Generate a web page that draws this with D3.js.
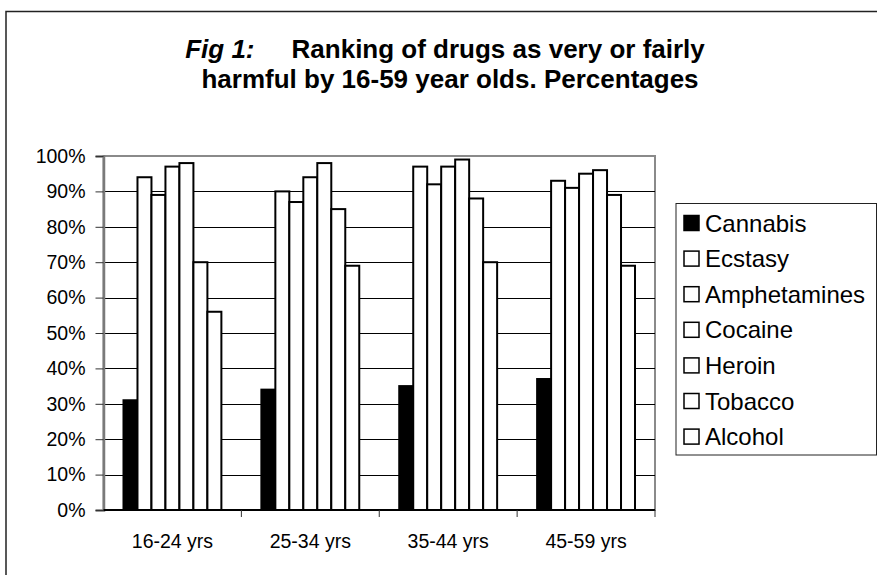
<!DOCTYPE html>
<html>
<head>
<meta charset="utf-8">
<script src="https://cdn.jsdelivr.net/npm/d3@7"></script>
<style>
  body { margin: 0; background: #fff; }
  text { font-family: "Liberation Sans", Arial, sans-serif; }
</style>
</head>
<body>
<div id="chart"></div>
<script>
/**
 * DATA
 * */
const categories = ["16-24 yrs", "25-34 yrs", "35-44 yrs", "45-59 yrs"];
const drugs = ["Cannabis", "Ecstasy", "Amphetamines", "Cocaine", "Heroin", "Tobacco", "Alcohol"];

const cannabis = [31, 34, 35, 37];
const ecstasy = [94, 90, 97, 93];
const amphetamines = [89, 87, 92, 91];
const cocaine = [97, 94, 97, 95];
const heroin = [98, 98, 99, 96];
const tobacco = [70, 85, 88, 89];
const alcohol = [56, 69, 70, 69];

const yTicks = [0, 10, 20, 30, 40, 50, 60, 70, 80, 90, 100];

/**
 * CONSTANTS
 * */
const width = 877,
  height = 575,
  plot = { left: 103.5, right: 655, top: 156, bottom: 510 };

const seriesValues = [cannabis, ecstasy, amphetamines, cocaine, heroin, tobacco, alcohol];
const fills = drugs.map(d => d === "Cannabis" ? "#000" : "#fff");

// one row per category, one value per drug
const table = categories.map((c, i) => ({
  category: c,
  values: drugs.map((d, j) => ({ drug: d, value: seriesValues[j][i], fill: fills[j] }))
}));

const svg = d3.select("#chart")
  .append("svg")
  .attr("width", width)
  .attr("height", height);

// outer chart frame (only top and left edges fall inside the picture)
svg.append("rect")
  .attr("x", 6)
  .attr("y", 11.5)
  .attr("width", 950)
  .attr("height", 650)
  .attr("fill", "none")
  .attr("stroke", "#222")
  .attr("stroke-width", 1.5);

// title
const title = svg.append("text")
  .attr("x", 445)
  .attr("y", 58)
  .attr("text-anchor", "middle")
  .attr("font-size", 26)
  .attr("font-weight", "bold");
title.append("tspan").attr("font-style", "italic").text("Fig 1:");
title.append("tspan").attr("dx", 37).text("Ranking of drugs as very or fairly");

svg.append("text")
  .attr("x", 450)
  .attr("y", 88)
  .attr("text-anchor", "middle")
  .attr("font-size", 26)
  .attr("font-weight", "bold")
  .text("harmful by 16-59 year olds. Percentages");

/**
 * SCALES
 * */
const x0 = d3.scaleBand()
  .domain(categories)
  .range([plot.left, plot.right])
  .padding(0);

const x1 = d3.scaleBand()
  .domain(drugs)
  .range([0, x0.bandwidth()])
  .paddingInner(0)
  .paddingOuter(1.43);

const y = d3.scaleLinear()
  .domain([0, 100])
  .range([plot.bottom, plot.top]);

// plot area border (grey top & right)
svg.append("rect")
  .attr("x", plot.left)
  .attr("y", plot.top)
  .attr("width", plot.right - plot.left)
  .attr("height", plot.bottom - plot.top)
  .attr("fill", "none")
  .attr("stroke", "#8a8a8a")
  .attr("stroke-width", 2);

// gridlines
svg.append("g")
  .selectAll("line")
  .data(yTicks.filter(t => t > 0 && t < 100))
  .join("line")
  .attr("x1", plot.left)
  .attr("x2", plot.right)
  .attr("y1", d => Math.round(y(d)) + 0.5)
  .attr("y2", d => Math.round(y(d)) + 0.5)
  .attr("stroke", "#000")
  .attr("stroke-width", 1);

// bars
const group = svg.append("g")
  .selectAll("g")
  .data(table)
  .join("g")
  .attr("transform", d => `translate(${x0(d.category)},0)`);

group.selectAll("rect")
  .data(d => d.values)
  .join("rect")
  .attr("x", d => x1(d.drug))
  .attr("y", d => y(d.value))
  .attr("width", x1.bandwidth())
  .attr("height", d => y(0) - y(d.value))
  .attr("fill", d => d.fill)
  .attr("stroke", "#000")
  .attr("stroke-width", 2);

// y axis
const yAxis = svg.append("g")
  .attr("transform", `translate(${plot.left},0)`)
  .call(d3.axisLeft(y).tickValues(yTicks).tickSize(8).tickPadding(10).tickFormat(d => d + "%"));
yAxis.select(".domain").attr("stroke", "#7a7a7a").attr("stroke-width", 2.5);
yAxis.selectAll(".tick line").attr("stroke", "#333").attr("stroke-width", 1);
yAxis.selectAll(".tick text")
  .attr("font-size", 19.5)
  .attr("font-family", "Liberation Sans, Arial, sans-serif")
  .attr("fill", "#000");

// x axis: black baseline with ticks between categories
svg.append("line")
  .attr("x1", plot.left)
  .attr("x2", plot.right)
  .attr("y1", plot.bottom)
  .attr("y2", plot.bottom)
  .attr("stroke", "#000")
  .attr("stroke-width", 2);

svg.append("g")
  .selectAll("line")
  .data(categories.slice(1).concat(["end"]))
  .join("line")
  .attr("x1", d => d === "end" ? plot.right : x0(d))
  .attr("x2", d => d === "end" ? plot.right : x0(d))
  .attr("y1", plot.bottom)
  .attr("y2", plot.bottom + 7)
  .attr("stroke", "#333")
  .attr("stroke-width", 1);

svg.append("g")
  .selectAll("text")
  .data(categories)
  .join("text")
  .attr("x", d => x0(d) + x0.bandwidth() / 2)
  .attr("y", 548)
  .attr("text-anchor", "middle")
  .attr("font-size", 19.5)
  .text(d => d);

// legend
const legend = svg.append("g").attr("transform", "translate(676,203.5)");
legend.append("rect")
  .attr("width", 200.5)
  .attr("height", 251.5)
  .attr("fill", "#fff")
  .attr("stroke", "#222")
  .attr("stroke-width", 1);

const item = legend.selectAll("g.item")
  .data(drugs)
  .join("g")
  .attr("class", "item")
  .attr("transform", (d, i) => `translate(8,${19.5 + i * 35.6})`);

item.append("rect")
  .attr("x", 0)
  .attr("y", -7.5)
  .attr("width", 15)
  .attr("height", 15)
  .attr("fill", (d, i) => fills[i])
  .attr("stroke", "#000")
  .attr("stroke-width", 1.5);

item.append("text")
  .attr("x", 21)
  .attr("y", 8.5)
  .attr("font-size", 24)
  .text(d => d);
</script>
</body>
</html>
